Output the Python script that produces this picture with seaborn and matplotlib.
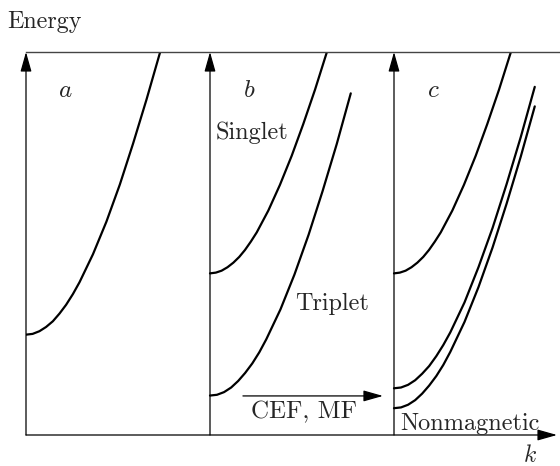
import numpy as np
import pandas as pd
import matplotlib
matplotlib.use('Agg')
import matplotlib.pyplot as plt
import seaborn as sns

# dispersion curves (k per panel, energy 0..1)
k_a = [0, .036, .073, .109, .146, .182, .218, .255, .291, .364, .437, .510, .582, .655, .728]
E_a = [.262, .264, .271, .282, .297, .317, .340, .368, .399, .472, .557, .654, .761, .876, .998]

k_singlet = [0, .032, .063, .095, .127, .159, .190, .222, .254, .317, .380, .444, .507, .571, .634]
E_singlet = [.422, .424, .429, .438, .450, .465, .483, .505, .529, .586, .653, .729, .812, .902, .998]

k_triplet = [0, .038, .0765, .115, .153, .191, .230, .268, .306, .383, .459, .536, .612, .689, .765]
E_triplet = [.103, .105, .112, .124, .141, .162, .187, .216, .250, .328, .419, .523, .637, .760, .892]

k_c_top = k_singlet
E_c_top = E_singlet
k_c_mid = k_triplet
E_c_mid = [.122, .124, .131, .143, .160, .180, .206, .235, .268, .346, .438, .541, .655, .778, .909]
k_c_low = k_triplet
E_c_low = [.070, .072, .079, .091, .108, .129, .154, .183, .217, .295, .386, .490, .604, .727, .858]

panel_x0 = [0.0, 1.0, 2.0]
panel_tags = ['$a$', '$b$', '$c$']

curves = pd.concat([
    pd.DataFrame({'k': np.array(k_a) + panel_x0[0], 'E': E_a, 'curve': 'a'}),
    pd.DataFrame({'k': np.array(k_singlet) + panel_x0[1], 'E': E_singlet, 'curve': 'b_s'}),
    pd.DataFrame({'k': np.array(k_triplet) + panel_x0[1], 'E': E_triplet, 'curve': 'b_t'}),
    pd.DataFrame({'k': np.array(k_c_top) + panel_x0[2], 'E': E_c_top, 'curve': 'c_1'}),
    pd.DataFrame({'k': np.array(k_c_mid) + panel_x0[2], 'E': E_c_mid, 'curve': 'c_2'}),
    pd.DataFrame({'k': np.array(k_c_low) + panel_x0[2], 'E': E_c_low, 'curve': 'c_3'}),
])

#%% figure
sns.set_theme(style='white')
plt.rcParams['font.family'] = ['cmr10', 'DejaVu Serif']
plt.rcParams['mathtext.fontset'] = 'cm'
plt.rcParams['axes.unicode_minus'] = False

fig = plt.figure(figsize=(5.6, 4.66), dpi=100)
ax = fig.add_axes([26/560, 31/466, 534/560, 383/466])

for name, grp in curves.groupby('curve'):
    sns.lineplot(data=grp, x='k', y='E', color='black', lw=1.6, ax=ax,
                 sort=False, estimator=None)

ax.set_xlim(0, 534/184)
ax.set_ylim(0, 1)
ax.set_xticks([])
ax.set_yticks([])
ax.set_xlabel('')
ax.set_ylabel('')
for s in ['left', 'right', 'bottom']:
    ax.spines[s].set_visible(False)
ax.spines['top'].set_color('#444444')
ax.spines['top'].set_linewidth(1.0)

arrow = dict(arrowstyle='-|>,head_length=0.6,head_width=0.17', color='black',
             lw=0.9, mutation_scale=20, shrinkA=0, shrinkB=0)
for x0 in panel_x0:
    ax.annotate('', xy=(x0, 1), xytext=(x0, 0), arrowprops=arrow,
                annotation_clip=False)
ax.annotate('', xy=(531/184, 0), xytext=(0, 0), arrowprops=arrow,
            annotation_clip=False)
ax.annotate('', xy=(1.940, 0.102), xytext=(1.179, 0.102), arrowprops=arrow)

for x0, tag in zip(panel_x0, panel_tags):
    ax.text(x0 + 0.215, 0.898, tag, fontsize=18, ha='center', va='center')

ax.text(0.103, 1.078, 'Energy', fontsize=17.3, ha='center', va='center')
ax.text(1.228, 0.790, 'Singlet', fontsize=17.5, ha='center', va='center')
ax.text(1.661, 0.343, 'Triplet', fontsize=17.5, ha='center', va='center')
ax.text(1.511, 0.060, 'CEF, MF', fontsize=18, ha='center', va='center')
ax.text(2.411, 0.030, 'Nonmagnetic', fontsize=17.5, ha='center', va='center',
        clip_on=False)
ax.text(2.739, -0.055, '$k$', fontsize=17, ha='center', va='center')

fig.savefig('out.png', dpi=100)
